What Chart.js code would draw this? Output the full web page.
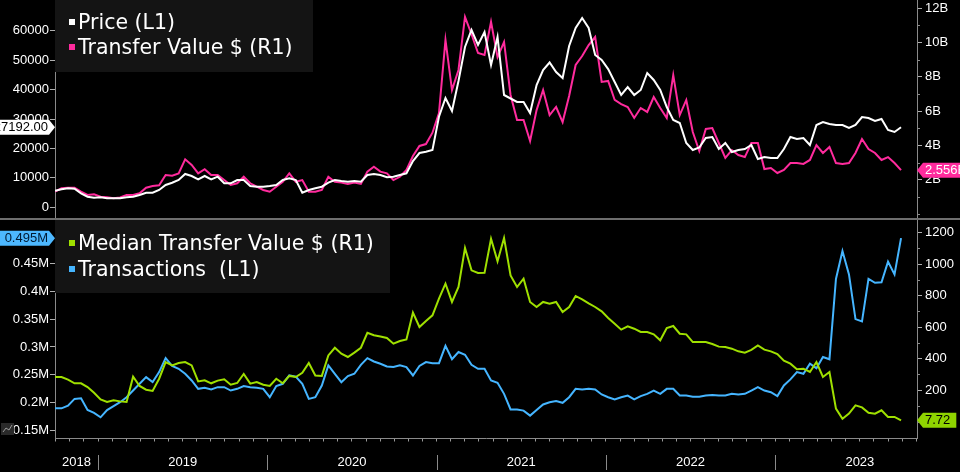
<!DOCTYPE html>
<html><head><meta charset="utf-8">
<script src="https://cdn.jsdelivr.net/npm/chart.js@4.4.0/dist/chart.umd.min.js"></script>
<style>
html,body{margin:0;background:#000;width:960px;height:472px;overflow:hidden}
canvas{position:absolute;left:0}
#c1{top:0}#c2{top:218px}
</style></head><body>
<canvas id="c1" width="960" height="220"></canvas>
<canvas id="c2" width="960" height="254"></canvas>
<script>
/* ===== DATA (two-week samples, Oct 2018 → Sep 2023) ===== */
const price=[5640,6120,6460,6320,4760,3600,3260,3400,3060,3060,
 3060,3400,3600,4180,4960,4960,5880,7580,8360,9280,
 11320,10640,9510,10640,9510,10400,8160,8160,9280,9280,
 7240,7000,7000,7240,7580,9280,9850,9280,4960,5880,
 6460,7000,8360,9280,8940,8700,8940,8700,10980,11320,
 10980,10190,10400,10980,11550,15730,18450,18890,19470,30790,
 37140,32720,42920,54470,60250,55150,59570,48350,57860,38160,
 36970,35780,35780,32030,41530,46650,49200,45970,43940,54800,
 60930,64330,60930,51750,50050,46960,42580,38160,40850,38160,
 39860,45630,43260,39860,34080,29660,28640,21840,19470,20320,
 23550,23890,19810,21840,18790,19470,19810,21170,16410,17090,
 16750,16750,19810,23890,23210,23550,21170,27970,28980,28320,
 27970,27970,26950,27970,30680,30340,29320,30000,26270,25590,27192];
const transferValue=[1.30,1.50,1.53,1.53,1.30,1.11,1.15,1.01,0.97,0.92,
 0.97,1.11,1.11,1.21,1.53,1.63,1.67,2.27,2.23,2.37,
 3.19,2.86,2.37,2.61,2.27,2.27,1.98,1.69,1.79,2.17,
 1.79,1.59,1.40,1.30,1.59,1.88,2.37,1.88,1.98,1.30,
 1.30,1.40,2.17,1.88,1.83,1.75,1.83,1.75,2.47,2.76,
 2.47,2.37,1.98,2.17,2.57,3.38,3.97,4.08,4.74,5.89,
 10.15,7.23,8.40,11.49,10.48,9.39,9.27,11.20,9.15,10.03,
 6.94,5.48,5.48,4.26,6.06,7.23,5.77,6.24,5.36,6.88,
 8.69,9.21,9.85,10.32,7.70,7.76,6.65,6.41,6.24,5.60,
 6.18,5.95,6.82,6.18,5.60,8.10,5.77,6.65,4.78,3.67,
 4.96,5.01,4.14,3.27,3.73,3.44,3.32,4.14,4.14,2.62,
 2.68,2.39,2.57,2.97,2.97,2.92,3.15,4.02,3.56,3.91,
 2.97,2.92,2.97,3.56,4.37,3.79,3.56,3.15,3.32,2.97,2.556];
const medianTransfer=[283,283,266,243,243,219,183,141,124,135,
 128,124,285,226,202,194,272,378,357,372,
 378,357,255,262,243,260,268,234,245,302,
 241,251,234,226,272,243,290,283,310,372,
 293,290,420,469,431,410,438,469,564,548,
 541,531,495,512,522,692,601,639,675,781,
 876,760,855,1103,961,944,945,1162,1018,1167,
 929,855,908,760,728,760,749,760,696,728,
 798,777,751,728,700,658,622,584,605,590,
 569,569,554,516,594,607,558,554,505,505,
 505,493,476,474,463,446,438,455,484,457,
 446,429,387,368,332,336,315,378,283,315,
 82,18,50,103,90,56,50,71,29,29,7.72];
const transactions=[0.190,0.190,0.195,0.207,0.208,0.187,0.182,0.174,0.187,0.194,
 0.201,0.210,0.222,0.234,0.246,0.237,0.255,0.280,0.266,0.261,
 0.252,0.240,0.225,0.227,0.224,0.228,0.228,0.222,0.225,0.230,
 0.228,0.227,0.225,0.210,0.230,0.234,0.249,0.247,0.234,0.207,
 0.210,0.231,0.267,0.252,0.237,0.248,0.252,0.268,0.280,0.274,
 0.270,0.265,0.264,0.267,0.264,0.249,0.266,0.273,0.271,0.271,
 0.302,0.278,0.291,0.286,0.268,0.261,0.261,0.240,0.236,0.216,
 0.188,0.188,0.186,0.177,0.187,0.197,0.201,0.203,0.200,0.210,
 0.225,0.224,0.225,0.224,0.215,0.210,0.206,0.210,0.213,0.206,
 0.212,0.216,0.222,0.216,0.225,0.225,0.213,0.213,0.211,0.211,
 0.213,0.214,0.213,0.213,0.216,0.215,0.216,0.222,0.228,0.222,
 0.219,0.212,0.231,0.242,0.255,0.252,0.270,0.262,0.282,0.278,
 0.422,0.472,0.430,0.350,0.346,0.422,0.415,0.416,0.453,0.430,0.495];
const yearLabels=['2018','2019','2020','2021','2022','2023'];
const priceTicks=[0,10000,20000,30000,40000,50000,60000];
const transferTicks=[2,4,6,8,10,12];
const transferMinor=[0,1,3,5,7,9,11];
const transactTicks=[0.15,0.2,0.25,0.3,0.35,0.4,0.45];
const medianTicks=[200,400,600,800,1000,1200];
const medianMinor=[0,100,300,500,700,900,1100];

const X0=2018.746,STEP=0.03844,XMIN=2018.746,XMAX=2023.8375;
const pts=a=>a.map((v,i)=>({x:X0+i*STEP,y:v}));

const LBL='"Liberation Sans"',LEG='"DejaVu Sans"',AXC='#8a8a8a';
Chart.defaults.font.family=LBL;
Chart.defaults.font.size=13;
Chart.defaults.color='#fff';

/* ===== PLUGIN: legend box, value flags, minor ticks ===== */
function drawFlag(c,side,x,y,bg,fg,txt){
  c.font='13px '+LBL;
  const w=c.measureText(txt).width,h=15;
  c.fillStyle=bg;c.beginPath();
  if(side==='left'){
    const l=Math.min(0,x-10-w);
    c.moveTo(x,y);c.lineTo(x-6,y-h/2);c.lineTo(l,y-h/2);c.lineTo(l,y+h/2);c.lineTo(x-6,y+h/2);
    c.closePath();c.fill();
    c.fillStyle=fg;c.textAlign='right';c.textBaseline='middle';c.fillText(txt,x-7,y+0.5);
  }else{
    const r=x+8+w+6;
    c.moveTo(x,y);c.lineTo(x+6,y-h/2);c.lineTo(r,y-h/2);c.lineTo(r,y+h/2);c.lineTo(x+6,y+h/2);
    c.closePath();c.fill();
    c.fillStyle=fg;c.textAlign='left';c.textBaseline='middle';c.fillText(txt,x+8,y+0.5);
  }
}

const panelDeco={id:'panelDeco',
  afterDatasetsDraw(ch,args,o){
    const c=ch.ctx;
    c.save();
    c.fillStyle='#141414';c.fillRect(...o.box);
    c.font='20.5px '+LEG;c.textBaseline='middle';c.textAlign='left';
    ch.data.datasets.forEach((d,i)=>{
      const y=o.rows[i];
      c.fillStyle=d.borderColor;c.fillRect(69,y-5,6,6);
      c.fillStyle='#fff';c.fillText(d.label,78,y);
    });
    c.restore();
  },
  afterDraw(ch,args,o){
    const c=ch.ctx;
    c.save();
    // minor ticks on right axis
    const rs=ch.scales[o.minor.axis];
    c.strokeStyle=AXC;c.lineWidth=1;
    o.minor.vals.forEach(v=>{
      const y=Math.round(rs.getPixelForValue(v))+0.5;
      c.beginPath();c.moveTo(rs.left,y);c.lineTo(rs.left+3,y);c.stroke();
    });
    if(o.sep){
      c.strokeStyle='#6e6e6e';c.lineWidth=2;
      c.beginPath();c.moveTo(0,219);c.lineTo(960,219);c.stroke();
    }
    if(o.years){
      const xs=ch.scales.x;
      c.font='13px '+LBL;c.fillStyle='#fff';c.textAlign='center';c.textBaseline='middle';
      c.strokeStyle=AXC;c.lineWidth=1;
      yearLabels.forEach(t=>{
        const yr=+t;
        const a=Math.max(xs.getPixelForValue(yr),xs.left),b=Math.min(xs.getPixelForValue(yr+1),xs.right);
        const mid=xs.getPixelForValue(yr+0.5);
        const cx=(mid>xs.left+15&&mid<xs.right-15)?mid:(a+b)/2;
        c.fillText(t,cx,244);
        if(yr>XMIN){
          const sx=Math.round(xs.getPixelForValue(yr))+0.5;
          c.beginPath();c.moveTo(sx,237);c.lineTo(sx,252);c.stroke();
        }
      });
      // small chart-type icon, bottom left
      c.fillStyle='#2a2a2a';c.fillRect(1,205,13,12);
      c.strokeStyle='#9a9a9a';c.beginPath();
      c.moveTo(3,214);c.lineTo(6,210);c.lineTo(9,212);c.lineTo(12,207);c.stroke();
    }
    // last-value flags
    o.flags.forEach(f=>{
      const data=ch.data.datasets[f.ds].data;
      const v=data[data.length-1].y;
      const sc=ch.scales[f.axis];
      const x=f.side==='left'?sc.right:sc.left;
      drawFlag(c,f.side,x,sc.getPixelForValue(v),f.bg,f.fg,f.fmt(v));
    });
    c.restore();
  }
};

/* ===== SCALE HELPERS ===== */
const fixedTicks=vals=>s=>{s.ticks=vals.map(v=>({value:v}));};
const yAxis=(pos,min,max,vals,fmt,w)=>({
  position:pos,min,max,
  afterBuildTicks:fixedTicks(vals),
  afterFit:s=>{s.width=w;s.paddingTop=0;s.paddingBottom=0;},
  ticks:{color:'#fff',padding:pos==='left'?1:3,callback:fmt,font:{size:13}},
  grid:{drawOnChartArea:false,tickLength:5,tickColor:'#b0b0b0'},
  border:{color:AXC,width:1}
});
const line=(label,data,color,axis)=>({label,data:pts(data),borderColor:color,backgroundColor:color,
  borderWidth:2,pointRadius:0,tension:0,yAxisID:axis});

/* ===== TOP PANEL ===== */
new Chart(document.getElementById('c1'),{
  type:'line',
  data:{datasets:[
    line('Price (L1)',price,'#ffffff','yL'),
    line('Transfer Value $ (R1)',transferValue,'#ff2b9d','yR')
  ]},
  options:{
    responsive:false,animation:false,devicePixelRatio:1,
    layout:{padding:{top:0,bottom:2,left:0,right:0}},
    plugins:{legend:{display:false},tooltip:{enabled:false},
      panelDeco:{box:[55,0,258,72],rows:[24,49],sep:true,
        minor:{axis:'yR',vals:transferMinor},
        flags:[
          {ds:0,axis:'yL',side:'left',bg:'#ffffff',fg:'#000',fmt:v=>v.toFixed(2)},
          {ds:1,axis:'yR',side:'right',bg:'#ff2b9d',fg:'#fff',fmt:v=>v.toFixed(3)+'B'}
        ]}},
    scales:{
      x:{type:'linear',min:XMIN,max:XMAX,display:false},
      yL:yAxis('left',-3636,70438,priceTicks,v=>String(v),55),
      yR:yAxis('right',-0.233,12.478,transferTicks,v=>v+'B',43)
    }
  },
  plugins:[panelDeco]
});

/* ===== BOTTOM PANEL ===== */
const monthTicks=[];
for(let y=2018;y<=2023;y++)for(let m=0;m<12;m++){const v=y+m/12;if(v>=XMIN&&v<=XMAX)monthTicks.push(v);}

new Chart(document.getElementById('c2'),{
  type:'line',
  data:{datasets:[
    line('Median Transfer Value $ (R1)',medianTransfer,'#9fe000','yR'),
    line('Transactions  (L1)',transactions,'#45b5ff','yL')
  ]},
  options:{
    responsive:false,animation:false,devicePixelRatio:1,
    layout:{padding:{top:2,bottom:0,left:0,right:0}},
    plugins:{legend:{display:false},tooltip:{enabled:false},
      panelDeco:{box:[55,2,335,73],rows:[27,53],years:true,
        minor:{axis:'yR',vals:medianMinor},
        flags:[
          {ds:1,axis:'yL',side:'left',bg:'#4db8ff',fg:'#001a33',fmt:v=>v.toFixed(3)+'M'},
          {ds:0,axis:'yR',side:'right',bg:'#8fd400',fg:'#000',fmt:v=>v.toFixed(2)}
        ]}},
    scales:{
      x:{type:'linear',min:XMIN,max:XMAX,position:'bottom',
        afterBuildTicks:fixedTicks(monthTicks),
        afterFit:s=>{s.height=33.5;s.paddingLeft=0;s.paddingRight=0;},
        ticks:{display:false},
        grid:{drawOnChartArea:false,tickLength:3,tickColor:'#9a9a9a'},
        border:{color:AXC,width:1}},
      yL:yAxis('left',0.136,0.5276,transactTicks,v=>(+v.toFixed(2))+'M',55),
      yR:yAxis('right',-108,1281,medianTicks,v=>String(v),43)
    }
  },
  plugins:[panelDeco]
});
</script></body></html>
